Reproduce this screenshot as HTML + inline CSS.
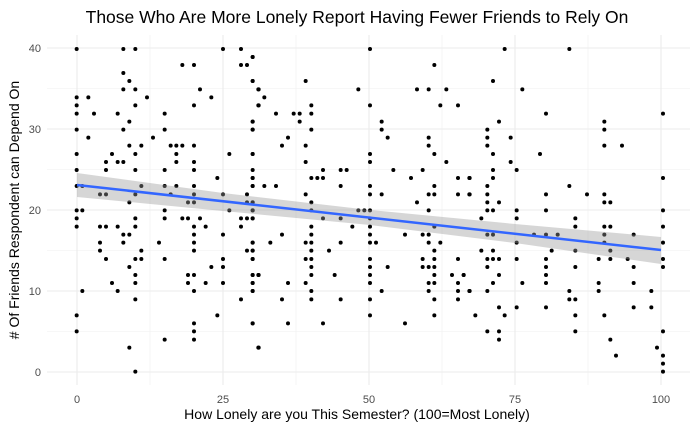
<!DOCTYPE html>
<html><head><meta charset="utf-8"><style>
html,body{margin:0;padding:0;background:#fff;}
svg{display:block;font-family:"Liberation Sans",sans-serif;}
</style></head><body>
<svg width="700" height="432" viewBox="0 0 700 432" xmlns="http://www.w3.org/2000/svg">
<rect width="700" height="432" fill="#fff"/>
<g stroke="#f0f0f0" stroke-width="0.6">
<line x1="47" x2="690" y1="331.5" y2="331.5"/><line x1="47" x2="690" y1="250.5" y2="250.5"/><line x1="47" x2="690" y1="169.5" y2="169.5"/><line x1="47" x2="690" y1="88.5" y2="88.5"/>
<line y1="35" y2="385" x1="150" x2="150"/><line y1="35" y2="385" x1="296" x2="296"/><line y1="35" y2="385" x1="442" x2="442"/><line y1="35" y2="385" x1="588" x2="588"/>
</g>
<g stroke="#ebebeb" stroke-width="1.1">
<line x1="47" x2="690" y1="372" y2="372"/><line x1="47" x2="690" y1="291" y2="291"/><line x1="47" x2="690" y1="210" y2="210"/><line x1="47" x2="690" y1="129" y2="129"/><line x1="47" x2="690" y1="48" y2="48"/>
<line y1="35" y2="385" x1="77" x2="77"/><line y1="35" y2="385" x1="223" x2="223"/><line y1="35" y2="385" x1="369" x2="369"/><line y1="35" y2="385" x1="515" x2="515"/><line y1="35" y2="385" x1="661" x2="661"/>
</g>
<g fill="#000">
<g transform="translate(40,35) scale(0.33333)">
<circle cx="110" cy="42" r="6"/><circle cx="250" cy="42" r="6"/><circle cx="286" cy="42" r="6"/><circle cx="549" cy="42" r="6"/><circle cx="603" cy="42" r="6"/>
<circle cx="427" cy="90" r="6"/><circle cx="462" cy="90" r="6"/><circle cx="603" cy="90" r="6"/><circle cx="621" cy="90" r="6"/><circle cx="638" cy="66" r="6"/>
<circle cx="250" cy="114" r="6"/><circle cx="268" cy="138" r="6"/><circle cx="638" cy="138" r="6"/>
<circle cx="250" cy="163" r="6"/><circle cx="286" cy="163" r="6"/><circle cx="480" cy="163" r="6"/><circle cx="655" cy="163" r="6"/>
<circle cx="110" cy="187" r="6"/><circle cx="145" cy="187" r="6"/><circle cx="321" cy="187" r="6"/><circle cx="514" cy="187" r="6"/>
<circle cx="110" cy="211" r="6"/><circle cx="286" cy="211" r="6"/><circle cx="462" cy="211" r="6"/><circle cx="655" cy="211" r="6"/>
<circle cx="110" cy="236" r="6"/><circle cx="162" cy="236" r="6"/><circle cx="233" cy="236" r="6"/><circle cx="374" cy="236" r="6"/>
<circle cx="268" cy="260" r="6"/><circle cx="638" cy="260" r="6"/>
<circle cx="110" cy="284" r="6"/><circle cx="250" cy="284" r="6"/><circle cx="374" cy="284" r="6"/><circle cx="638" cy="284" r="6"/>
<circle cx="145" cy="308" r="6"/><circle cx="339" cy="308" r="6"/>
<circle cx="268" cy="332" r="6"/><circle cx="304" cy="332" r="6"/><circle cx="392" cy="332" r="6"/><circle cx="409" cy="332" r="6"/><circle cx="427" cy="332" r="6"/><circle cx="462" cy="332" r="6"/>
<circle cx="110" cy="357" r="6"/><circle cx="216" cy="357" r="6"/><circle cx="286" cy="357" r="6"/><circle cx="409" cy="357" r="6"/><circle cx="568" cy="357" r="6"/><circle cx="638" cy="357" r="6"/>
<circle cx="198" cy="381" r="6"/><circle cx="233" cy="381" r="6"/><circle cx="250" cy="381" r="6"/><circle cx="409" cy="381" r="6"/><circle cx="462" cy="381" r="6"/>
<circle cx="110" cy="405" r="6"/><circle cx="198" cy="405" r="6"/><circle cx="286" cy="405" r="6"/><circle cx="374" cy="405" r="6"/><circle cx="462" cy="405" r="6"/><circle cx="638" cy="405" r="6"/>
<circle cx="532" cy="429" r="6"/><circle cx="638" cy="429" r="6"/>
<circle cx="110" cy="453" r="6"/><circle cx="127" cy="453" r="6"/><circle cx="304" cy="453" r="6"/><circle cx="374" cy="453" r="6"/><circle cx="409" cy="453" r="6"/><circle cx="462" cy="453" r="6"/><circle cx="638" cy="453" r="6"/>
<circle cx="180" cy="478" r="6"/><circle cx="198" cy="478" r="6"/><circle cx="286" cy="478" r="6"/><circle cx="392" cy="478" r="6"/><circle cx="462" cy="478" r="6"/><circle cx="549" cy="478" r="6"/><circle cx="621" cy="478" r="6"/>
<circle cx="268" cy="502" r="6"/><circle cx="444" cy="502" r="6"/><circle cx="462" cy="502" r="6"/><circle cx="621" cy="502" r="6"/><circle cx="638" cy="502" r="6"/>
<circle cx="110" cy="526" r="6"/><circle cx="127" cy="526" r="6"/><circle cx="374" cy="526" r="6"/><circle cx="568" cy="526" r="6"/><circle cx="638" cy="526" r="6"/>
<circle cx="110" cy="550" r="6"/><circle cx="286" cy="550" r="6"/><circle cx="374" cy="550" r="6"/><circle cx="427" cy="550" r="6"/><circle cx="444" cy="550" r="6"/><circle cx="480" cy="550" r="6"/><circle cx="603" cy="550" r="6"/><circle cx="621" cy="550" r="6"/><circle cx="638" cy="550" r="6"/>
<circle cx="110" cy="575" r="6"/><circle cx="180" cy="575" r="6"/><circle cx="198" cy="575" r="6"/><circle cx="233" cy="575" r="6"/><circle cx="286" cy="575" r="6"/><circle cx="462" cy="575" r="6"/><circle cx="497" cy="575" r="6"/><circle cx="603" cy="575" r="6"/>
<circle cx="250" cy="599" r="6"/><circle cx="268" cy="599" r="6"/><circle cx="462" cy="599" r="6"/><circle cx="549" cy="599" r="6"/>
<circle cx="180" cy="623" r="6"/><circle cx="250" cy="623" r="6"/><circle cx="357" cy="623" r="6"/><circle cx="462" cy="623" r="6"/><circle cx="638" cy="623" r="6"/>
<circle cx="180" cy="647" r="6"/><circle cx="304" cy="647" r="6"/><circle cx="462" cy="647" r="6"/><circle cx="621" cy="647" r="6"/><circle cx="638" cy="647" r="6"/>
<circle cx="198" cy="672" r="6"/><circle cx="286" cy="672" r="6"/><circle cx="304" cy="672" r="6"/><circle cx="374" cy="672" r="6"/><circle cx="549" cy="672" r="6"/><circle cx="638" cy="672" r="6"/>
<circle cx="268" cy="696" r="6"/><circle cx="514" cy="696" r="6"/><circle cx="549" cy="696" r="6"/>
<circle cx="286" cy="720" r="6"/><circle cx="444" cy="720" r="6"/><circle cx="462" cy="720" r="6"/><circle cx="638" cy="720" r="6"/><circle cx="655" cy="720" r="6"/>
<circle cx="216" cy="744" r="6"/><circle cx="286" cy="744" r="6"/><circle cx="444" cy="744" r="6"/><circle cx="497" cy="744" r="6"/><circle cx="549" cy="744" r="6"/><circle cx="638" cy="744" r="6"/>
<circle cx="127" cy="768" r="6"/><circle cx="233" cy="768" r="6"/><circle cx="462" cy="768" r="6"/><circle cx="638" cy="768" r="6"/>
<circle cx="286" cy="793" r="6"/><circle cx="603" cy="793" r="6"/>
<circle cx="110" cy="841" r="6"/><circle cx="532" cy="841" r="6"/><circle cx="462" cy="865" r="6"/><circle cx="638" cy="865" r="6"/>
<circle cx="110" cy="889" r="6"/><circle cx="462" cy="889" r="6"/><circle cx="374" cy="914" r="6"/><circle cx="462" cy="914" r="6"/>
<circle cx="268" cy="938" r="6"/><circle cx="655" cy="938" r="6"/><circle cx="286" cy="1010" r="6"/>
</g>
<g transform="translate(250,35) scale(0.33333)">
<circle cx="360" cy="42" r="6"/><circle cx="8" cy="66" r="6"/><circle cx="553" cy="90" r="6"/><circle cx="8" cy="138" r="6"/><circle cx="167" cy="138" r="6"/>
<circle cx="26" cy="163" r="6"/><circle cx="325" cy="163" r="6"/><circle cx="501" cy="163" r="6"/><circle cx="536" cy="163" r="6"/><circle cx="589" cy="163" r="6"/><circle cx="43" cy="187" r="6"/>
<circle cx="26" cy="211" r="6"/><circle cx="184" cy="211" r="6"/><circle cx="360" cy="211" r="6"/><circle cx="571" cy="211" r="6"/><circle cx="624" cy="211" r="6"/>
<circle cx="78" cy="236" r="6"/><circle cx="131" cy="236" r="6"/><circle cx="149" cy="236" r="6"/><circle cx="184" cy="236" r="6"/>
<circle cx="8" cy="260" r="6"/><circle cx="149" cy="260" r="6"/><circle cx="395" cy="260" r="6"/>
<circle cx="8" cy="284" r="6"/><circle cx="184" cy="284" r="6"/><circle cx="395" cy="284" r="6"/>
<circle cx="114" cy="308" r="6"/><circle cx="413" cy="308" r="6"/><circle cx="536" cy="308" r="6"/>
<circle cx="96" cy="332" r="6"/><circle cx="167" cy="332" r="6"/><circle cx="536" cy="332" r="6"/>
<circle cx="8" cy="357" r="6"/><circle cx="360" cy="357" r="6"/><circle cx="553" cy="357" r="6"/>
<circle cx="167" cy="381" r="6"/><circle cx="360" cy="381" r="6"/><circle cx="589" cy="381" r="6"/>
<circle cx="219" cy="405" r="6"/><circle cx="272" cy="405" r="6"/><circle cx="290" cy="405" r="6"/><circle cx="430" cy="405" r="6"/><circle cx="518" cy="405" r="6"/>
<circle cx="8" cy="429" r="6"/><circle cx="184" cy="429" r="6"/><circle cx="202" cy="429" r="6"/><circle cx="219" cy="429" r="6"/><circle cx="483" cy="429" r="6"/><circle cx="624" cy="429" r="6"/><circle cx="658" cy="429" r="6"/>
<circle cx="8" cy="453" r="6"/><circle cx="43" cy="453" r="6"/><circle cx="78" cy="453" r="6"/><circle cx="272" cy="453" r="6"/><circle cx="360" cy="453" r="6"/><circle cx="553" cy="453" r="6"/>
<circle cx="167" cy="478" r="6"/><circle cx="360" cy="478" r="6"/><circle cx="395" cy="478" r="6"/><circle cx="536" cy="478" r="6"/><circle cx="553" cy="478" r="6"/><circle cx="624" cy="478" r="6"/><circle cx="658" cy="478" r="6"/>
<circle cx="8" cy="502" r="6"/><circle cx="184" cy="502" r="6"/><circle cx="501" cy="502" r="6"/>
<circle cx="8" cy="526" r="6"/><circle cx="184" cy="526" r="6"/><circle cx="325" cy="526" r="6"/><circle cx="343" cy="526" r="6"/><circle cx="360" cy="526" r="6"/><circle cx="536" cy="526" r="6"/>
<circle cx="8" cy="550" r="6"/><circle cx="219" cy="550" r="6"/><circle cx="272" cy="550" r="6"/><circle cx="360" cy="550" r="6"/>
<circle cx="184" cy="575" r="6"/><circle cx="307" cy="575" r="6"/><circle cx="360" cy="575" r="6"/><circle cx="553" cy="575" r="6"/>
<circle cx="96" cy="599" r="6"/><circle cx="184" cy="599" r="6"/><circle cx="360" cy="599" r="6"/><circle cx="465" cy="599" r="6"/><circle cx="518" cy="599" r="6"/><circle cx="536" cy="599" r="6"/>
<circle cx="8" cy="623" r="6"/><circle cx="61" cy="623" r="6"/><circle cx="167" cy="623" r="6"/><circle cx="184" cy="623" r="6"/><circle cx="272" cy="623" r="6"/><circle cx="360" cy="623" r="6"/><circle cx="378" cy="623" r="6"/><circle cx="536" cy="623" r="6"/><circle cx="571" cy="623" r="6"/>
<circle cx="8" cy="647" r="6"/><circle cx="184" cy="647" r="6"/><circle cx="237" cy="647" r="6"/><circle cx="553" cy="647" r="6"/>
<circle cx="8" cy="672" r="6"/><circle cx="167" cy="672" r="6"/><circle cx="184" cy="672" r="6"/><circle cx="360" cy="672" r="6"/><circle cx="518" cy="672" r="6"/><circle cx="553" cy="672" r="6"/><circle cx="624" cy="672" r="6"/>
<circle cx="184" cy="696" r="6"/><circle cx="360" cy="696" r="6"/><circle cx="413" cy="696" r="6"/><circle cx="518" cy="696" r="6"/><circle cx="536" cy="696" r="6"/><circle cx="553" cy="696" r="6"/>
<circle cx="8" cy="720" r="6"/><circle cx="26" cy="720" r="6"/><circle cx="184" cy="720" r="6"/><circle cx="254" cy="720" r="6"/><circle cx="360" cy="720" r="6"/><circle cx="553" cy="720" r="6"/><circle cx="606" cy="720" r="6"/><circle cx="641" cy="720" r="6"/>
<circle cx="8" cy="744" r="6"/><circle cx="114" cy="744" r="6"/><circle cx="167" cy="744" r="6"/><circle cx="360" cy="744" r="6"/><circle cx="536" cy="744" r="6"/><circle cx="553" cy="744" r="6"/><circle cx="624" cy="744" r="6"/>
<circle cx="8" cy="768" r="6"/><circle cx="184" cy="768" r="6"/><circle cx="395" cy="768" r="6"/><circle cx="536" cy="768" r="6"/><circle cx="624" cy="768" r="6"/><circle cx="658" cy="768" r="6"/>
<circle cx="96" cy="793" r="6"/><circle cx="184" cy="793" r="6"/><circle cx="272" cy="793" r="6"/><circle cx="360" cy="793" r="6"/><circle cx="553" cy="793" r="6"/><circle cx="624" cy="793" r="6"/>
<circle cx="360" cy="841" r="6"/><circle cx="553" cy="841" r="6"/>
<circle cx="8" cy="865" r="6"/><circle cx="114" cy="865" r="6"/><circle cx="219" cy="865" r="6"/><circle cx="465" cy="865" r="6"/><circle cx="26" cy="938" r="6"/>
</g>
<g transform="translate(460,35) scale(0.33333)">
<circle cx="134" cy="42" r="6"/><circle cx="328" cy="42" r="6"/><circle cx="99" cy="138" r="6"/><circle cx="187" cy="163" r="6"/>
<circle cx="258" cy="236" r="6"/><circle cx="609" cy="236" r="6"/><circle cx="117" cy="260" r="6"/><circle cx="433" cy="260" r="6"/>
<circle cx="82" cy="284" r="6"/><circle cx="433" cy="284" r="6"/><circle cx="82" cy="308" r="6"/><circle cx="152" cy="308" r="6"/>
<circle cx="82" cy="332" r="6"/><circle cx="433" cy="332" r="6"/><circle cx="486" cy="332" r="6"/>
<circle cx="99" cy="357" r="6"/><circle cx="240" cy="357" r="6"/><circle cx="152" cy="381" r="6"/>
<circle cx="99" cy="405" r="6"/><circle cx="170" cy="405" r="6"/>
<circle cx="29" cy="429" r="6"/><circle cx="99" cy="429" r="6"/><circle cx="609" cy="429" r="6"/>
<circle cx="82" cy="453" r="6"/><circle cx="328" cy="453" r="6"/>
<circle cx="29" cy="478" r="6"/><circle cx="82" cy="478" r="6"/><circle cx="258" cy="478" r="6"/><circle cx="381" cy="478" r="6"/><circle cx="433" cy="478" r="6"/>
<circle cx="82" cy="502" r="6"/><circle cx="117" cy="502" r="6"/><circle cx="433" cy="502" r="6"/><circle cx="451" cy="502" r="6"/>
<circle cx="82" cy="526" r="6"/><circle cx="99" cy="526" r="6"/><circle cx="170" cy="526" r="6"/><circle cx="258" cy="526" r="6"/><circle cx="609" cy="526" r="6"/>
<circle cx="64" cy="550" r="6"/><circle cx="170" cy="550" r="6"/><circle cx="346" cy="550" r="6"/>
<circle cx="346" cy="575" r="6"/><circle cx="433" cy="575" r="6"/><circle cx="451" cy="575" r="6"/><circle cx="609" cy="575" r="6"/>
<circle cx="82" cy="599" r="6"/><circle cx="99" cy="599" r="6"/><circle cx="222" cy="599" r="6"/><circle cx="258" cy="599" r="6"/><circle cx="293" cy="599" r="6"/><circle cx="433" cy="599" r="6"/><circle cx="521" cy="599" r="6"/>
<circle cx="170" cy="623" r="6"/><circle cx="433" cy="623" r="6"/><circle cx="609" cy="623" r="6"/>
<circle cx="64" cy="647" r="6"/><circle cx="99" cy="647" r="6"/><circle cx="275" cy="647" r="6"/><circle cx="346" cy="647" r="6"/><circle cx="451" cy="647" r="6"/>
<circle cx="82" cy="672" r="6"/><circle cx="99" cy="672" r="6"/><circle cx="117" cy="672" r="6"/><circle cx="170" cy="672" r="6"/><circle cx="258" cy="672" r="6"/><circle cx="416" cy="672" r="6"/><circle cx="451" cy="672" r="6"/><circle cx="503" cy="672" r="6"/><circle cx="609" cy="672" r="6"/>
<circle cx="82" cy="696" r="6"/><circle cx="258" cy="696" r="6"/><circle cx="346" cy="696" r="6"/><circle cx="521" cy="696" r="6"/><circle cx="609" cy="696" r="6"/>
<circle cx="11" cy="720" r="6"/><circle cx="117" cy="720" r="6"/><circle cx="258" cy="720" r="6"/>
<circle cx="99" cy="744" r="6"/><circle cx="187" cy="744" r="6"/><circle cx="258" cy="744" r="6"/><circle cx="416" cy="744" r="6"/><circle cx="521" cy="744" r="6"/>
<circle cx="29" cy="768" r="6"/><circle cx="82" cy="768" r="6"/><circle cx="328" cy="768" r="6"/><circle cx="416" cy="768" r="6"/><circle cx="574" cy="768" r="6"/>
<circle cx="328" cy="793" r="6"/><circle cx="346" cy="793" r="6"/>
<circle cx="117" cy="817" r="6"/><circle cx="170" cy="817" r="6"/><circle cx="258" cy="817" r="6"/><circle cx="521" cy="817" r="6"/><circle cx="574" cy="817" r="6"/>
<circle cx="46" cy="841" r="6"/><circle cx="134" cy="841" r="6"/><circle cx="346" cy="841" r="6"/><circle cx="433" cy="841" r="6"/>
<circle cx="82" cy="889" r="6"/><circle cx="117" cy="889" r="6"/><circle cx="346" cy="889" r="6"/><circle cx="609" cy="889" r="6"/>
<circle cx="117" cy="914" r="6"/><circle cx="451" cy="914" r="6"/><circle cx="591" cy="938" r="6"/>
<circle cx="468" cy="962" r="6"/><circle cx="609" cy="962" r="6"/><circle cx="609" cy="986" r="6"/><circle cx="609" cy="1010" r="6"/>
</g>
</g>
<polygon points="77,173 223,193 370,210 515,224 661,237 661,264 515,243 370,225 223,211 77,197" fill="#999" fill-opacity="0.4"/>
<line x1="77" y1="185" x2="661" y2="250" stroke="#3366ff" stroke-width="2.5"/>
<g font-size="11" fill="#4d4d4d" text-anchor="end">
<text x="41" y="376">0</text><text x="41" y="295">10</text><text x="41" y="214">20</text><text x="41" y="133">30</text><text x="41" y="52">40</text>
</g>
<g font-size="11" fill="#4d4d4d" text-anchor="middle">
<text x="77" y="403">0</text><text x="223" y="403">25</text><text x="369" y="403">50</text><text x="515" y="403">75</text><text x="661" y="403">100</text>
</g>
<text x="357" y="419" font-size="14" text-anchor="middle" fill="#000">How Lonely are you This Semester? (100=Most Lonely)</text>
<text transform="translate(19,210) rotate(-90)" font-size="14" text-anchor="middle" fill="#000"># Of Friends Respondent can Depend On</text>
<text x="357" y="23" font-size="17.5" text-anchor="middle" fill="#000">Those Who Are More Lonely Report Having Fewer Friends to Rely On</text>
</svg>
</body></html>
